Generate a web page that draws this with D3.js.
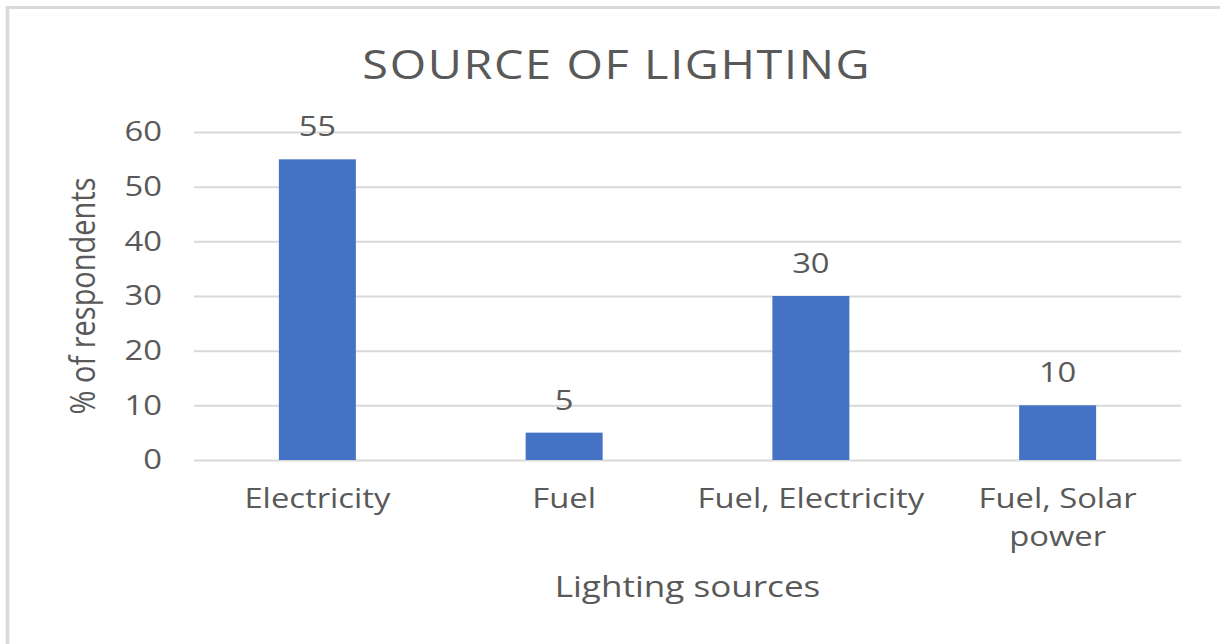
<!DOCTYPE html>
<html>
<head>
<meta charset="utf-8">
<script src="https://cdn.jsdelivr.net/npm/d3@7"></script>
<style>
  html, body { margin: 0; padding: 0; background: #fff; }
  svg { display: block; }
  text { font-family: "Open Sans", sans-serif; fill: #595959; }
</style>
</head>
<body>
<svg id="chart"></svg>
<script>
// Lighting source survey data
const categories = ["Electricity", "Fuel", "Fuel, Electricity", "Fuel, Solar power"];
const values = [55, 5, 30, 10];
const yTicks = [0, 10, 20, 30, 40, 50, 60];
const titleText = "SOURCE OF LIGHTING";
const xAxisTitle = "Lighting sources";
const yAxisTitle = "% of respondents";

// The chart is laid out on a narrower canvas and stretched horizontally to fill the page
const pageW = 1220, pageH = 644;
const stretch = 1.17;
const W = pageW / stretch;
const sx = px => px / stretch;

const svg = d3.select("#chart")
  .attr("width", pageW)
  .attr("height", pageH)
  .attr("viewBox", `0 0 ${W} ${pageH}`)
  .attr("preserveAspectRatio", "none");

// chart frame
svg.append("rect")
  .attr("x", sx(7.5)).attr("y", 7.5)
  .attr("width", W + 50).attr("height", pageH + 50)
  .attr("fill", "none")
  .attr("stroke", "#d9d9d9")
  .attr("stroke-width", 3);

const plot = { left: sx(194), right: sx(1181), top: 132, bottom: 460 };

const x = d3.scaleBand()
  .domain(categories)
  .range([plot.left, plot.right])
  .paddingInner(0.688)
  .paddingOuter(0.344);

const y = d3.scaleLinear()
  .domain([0, 60])
  .range([plot.bottom, plot.top]);

// gridlines + tick labels
const yAxis = d3.axisLeft(y)
  .tickValues(yTicks)
  .tickSize(-(plot.right - plot.left))
  .tickPadding(sx(32));

const gy = svg.append("g")
  .attr("transform", `translate(${plot.left},0)`)
  .call(yAxis);
gy.select(".domain").remove();
gy.selectAll(".tick line").attr("stroke", "#d9d9d9").attr("stroke-width", 2);
gy.selectAll(".tick text")
  .attr("fill", "#595959")
  .style("font-family", "'Open Sans', sans-serif")
  .style("font-size", "28px");

// bars
svg.append("g").selectAll("rect")
  .data(values)
  .join("rect")
  .attr("x", (d, i) => x(categories[i]))
  .attr("width", x.bandwidth())
  .attr("y", d => y(d))
  .attr("height", d => y(0) - y(d))
  .attr("fill", "#4472C4");

// value labels
svg.append("g").selectAll("text")
  .data(values)
  .join("text")
  .attr("x", (d, i) => x(categories[i]) + x.bandwidth() / 2)
  .attr("y", d => y(d) - 23)
  .attr("text-anchor", "middle")
  .style("font-size", "28px")
  .text(d => d);

// category labels, wrapped to the band width
const step = x.step();
const catG = svg.append("g");
categories.forEach(c => {
  const cx = x(c) + x.bandwidth() / 2;
  const t = catG.append("text")
    .attr("x", cx).attr("y", 508)
    .attr("text-anchor", "middle")
    .style("font-size", "28px");
  const words = c.split(" ");
  let line = [];
  let tspan = t.append("tspan").attr("x", cx).attr("y", 508);
  let lineNo = 0;
  words.forEach(w => {
    line.push(w);
    tspan.text(line.join(" "));
    if (tspan.node().getComputedTextLength() > step && line.length > 1) {
      line.pop();
      tspan.text(line.join(" "));
      line = [w];
      lineNo++;
      tspan = t.append("tspan").attr("x", cx).attr("y", 508 + lineNo * 38).text(w);
    }
  });
});

// axis titles
svg.append("text")
  .attr("x", (plot.left + plot.right) / 2)
  .attr("y", 597)
  .attr("text-anchor", "middle")
  .style("font-size", "30px")
  .text(xAxisTitle);

svg.append("text")
  .attr("transform", `translate(${sx(95)},${(plot.top + plot.bottom) / 2}) rotate(-90)`)
  .attr("text-anchor", "middle")
  .style("font-size", "29px")
  .text(yAxisTitle);

// chart title
svg.append("text")
  .attr("x", sx(616) + 0.7)
  .attr("y", 79)
  .attr("text-anchor", "middle")
  .style("font-size", "40px")
  .style("letter-spacing", "1.4px")
  .text(titleText);
</script>
</body>
</html>
